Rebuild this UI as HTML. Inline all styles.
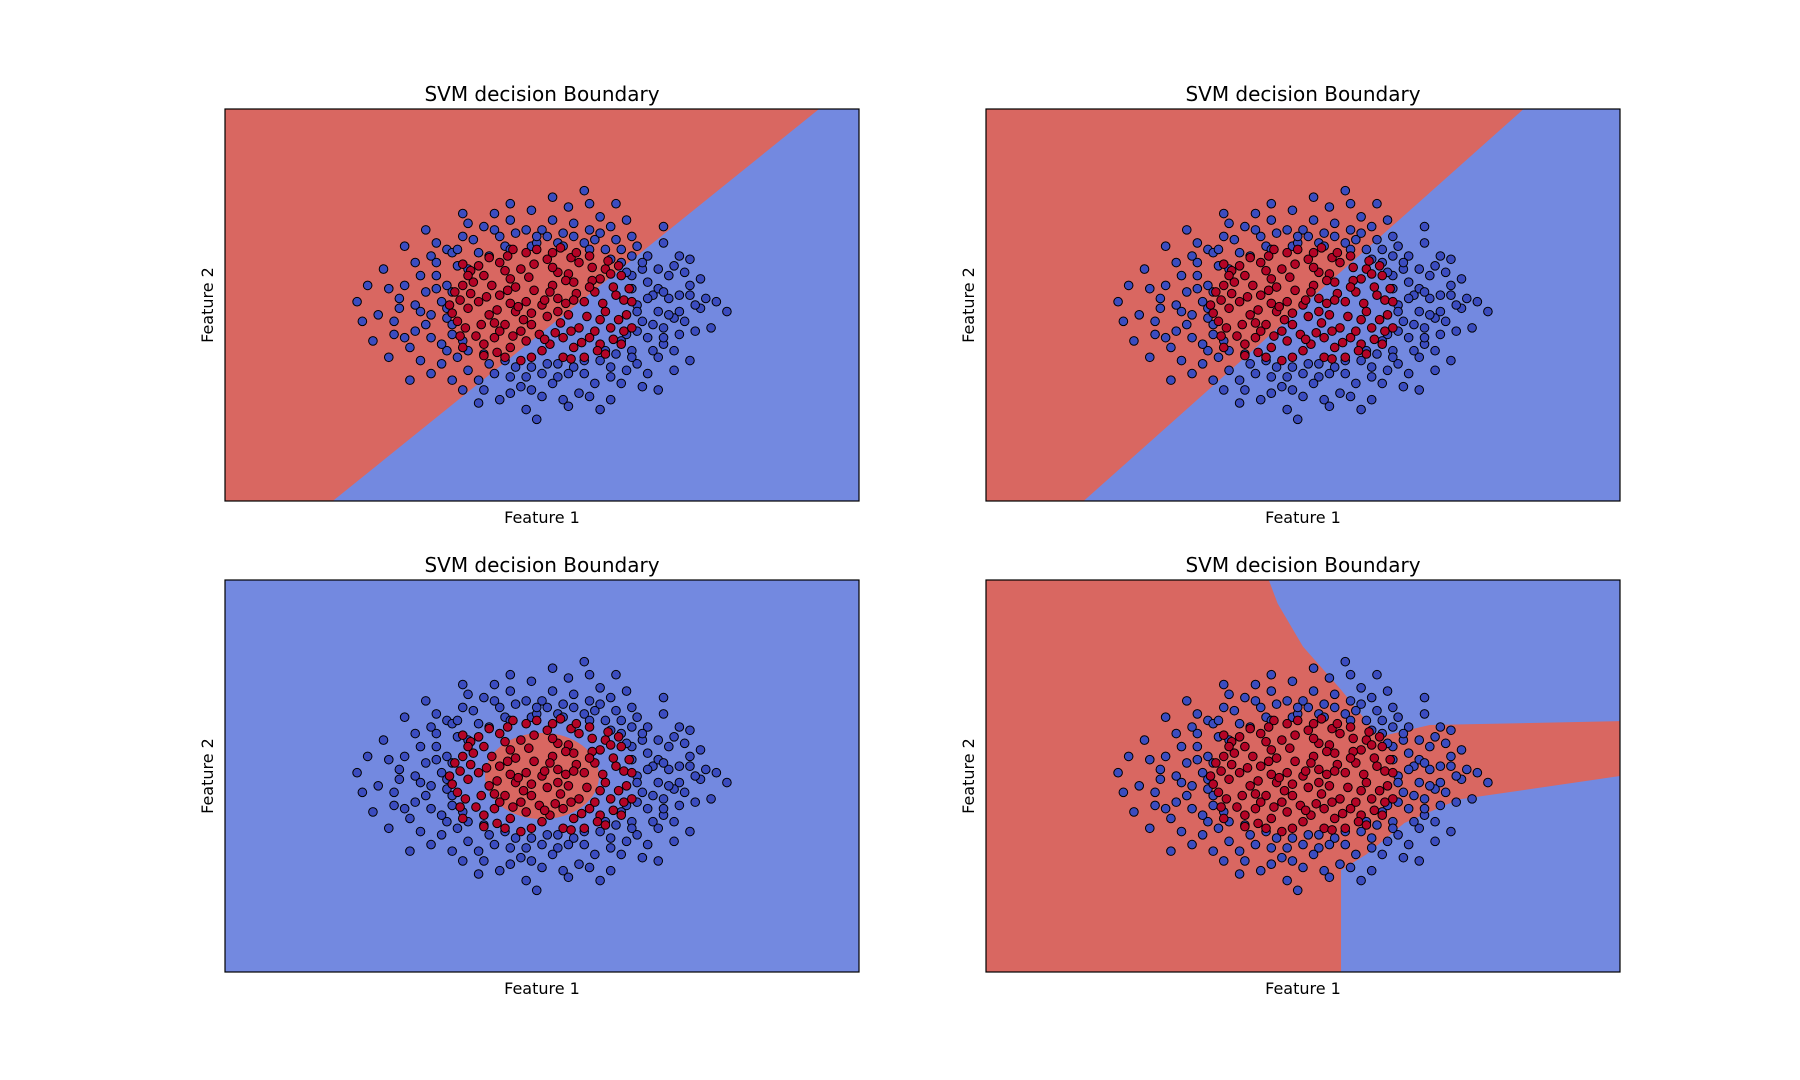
<!DOCTYPE html>
<html><head><meta charset="utf-8"><style>
html,body{margin:0;padding:0;background:#fff;width:1800px;height:1080px;overflow:hidden}
text{font-family:"DejaVu Sans","Liberation Sans",sans-serif;fill:#000}
</style></head><body>
<svg id="fig" width="1800" height="1080" xmlns="http://www.w3.org/2000/svg"></svg>
<script>
// Shared dataset (data units, domain x[-6,6], y[-6,6])
const bluePts=[[2.1,0.3],[2.5,-0.4],[1.9,1.1],[2.8,0.6],[3.0,-0.1],[2.3,-1.2],[1.7,-1.4],[2.6,1.5],[1.4,2.0],[0.9,2.3],[0.2,2.6],[-0.5,2.2],[-1.1,2.4],[-1.8,1.7],[-2.3,0.9],[-2.7,0.2],[-2.2,-0.6],[-2.5,-1.3],[-1.9,-1.8],[-1.2,-2.3],[-0.4,-2.5],[0.3,-2.2],[1.0,-2.4],[1.6,-2.0],[2.2,-1.6],[2.9,-0.8],[3.1,0.2],[2.4,0.9],[1.8,1.8],[1.1,2.7],[0.5,3.0],[-0.2,2.9],[-0.9,2.8],[-1.5,2.1],[-2.0,1.3],[-2.9,0.5],[-3.1,-0.3],[-2.8,-0.9],[-2.1,-2.1],[-1.5,-2.6],[-0.8,-2.9],[0.0,-2.8],[0.7,-2.7],[1.3,-2.9],[1.9,-2.5],[2.5,-2.0],
[1.8,0.0],[1.9,-0.5],[2.0,0.7],[1.7,0.9],[1.6,-0.9],[2.2,-0.2],[2.4,0.2],[2.6,-0.9],[2.0,-1.0],[1.5,1.3],[1.2,1.7],[0.8,1.9],[0.3,1.9],[-0.2,1.8],[-0.7,1.8],[-1.2,1.6],[-1.6,1.2],[-1.8,0.6],[-1.9,0.1],[-1.8,-0.4],[-1.7,-0.9],[-1.4,-1.4],[-1.0,-1.8],[-0.5,-1.9],[0.1,-1.8],[0.6,-1.9],[1.1,-1.7],[1.4,-1.5],[2.0,1.5],[2.2,0.5],[2.3,-0.7],[2.1,-1.4],[1.8,-1.8],[1.3,-2.2],[0.8,-2.1],[0.2,-2.4],[-0.3,-2.2],[-0.9,-2.1],[-1.4,-2.0],[-1.8,-1.4],[-2.1,-1.0],[-2.3,-0.2],[-2.2,0.4],[-2.0,0.9],[-1.7,1.6],[-1.3,2.0],[-0.8,2.1],[-0.3,2.3],[0.4,2.2],[1.0,2.0],[1.5,1.7],[1.9,1.3],
[2.7,1.0],[2.9,0.0],[2.7,-0.5],[2.5,-1.4],[2.0,-2.1],[1.5,-2.4],[0.9,-2.8],[0.4,-2.9],[-0.2,-2.6],[-0.6,-2.7],[-1.1,-2.6],[-1.7,-2.3],[-2.3,-1.7],[-2.6,-1.0],[-2.8,-0.5],[-2.6,0.6],[-2.4,1.3],[-2.0,1.9],[-1.4,2.5],[-0.6,2.6],[0.0,2.3],[0.6,2.5],[1.3,2.4],[1.7,2.1],[2.3,1.9],[2.6,0.3],[3.3,0.1],[3.5,-0.2],[3.2,-0.7],[3.0,0.8],[-3.3,0.6],[-3.5,0.1],[-3.4,-0.5],[-3.0,1.1],[-3.2,-1.1],[0.2,3.3],[-0.6,3.1],[0.9,3.1],[-0.3,-3.2],[0.5,-3.1],[-1.2,-3.0],[2.3,2.4],[-2.6,1.8],[-2.5,-2.3],[2.2,-2.6],[1.4,3.1],[-1.5,2.8],[2.8,-1.7],[-2.9,-1.6],[1.6,2.6],[-2.2,2.3],[2.5,1.2],[2.8,1.4],[-0.1,-3.5],[0.8,3.5],[1.1,-3.2],
[2.0,0.2],[1.8,-0.2],[1.7,0.5],[2.1,-0.6],[1.6,1.0],[1.3,1.4],[0.9,1.7],[0.4,1.8],[-0.1,1.9],[-0.6,1.7],[-1.0,1.5],[-1.4,1.1],[-1.7,0.4],[-1.8,-0.1],[-1.7,-0.6],[-1.5,-1.1],[-1.1,-1.5],[-0.7,-1.7],[-0.2,-1.9],[0.3,-1.8],[0.8,-1.7],[1.2,-1.4],[1.5,-1.1],[1.8,-0.8],[2.4,-0.3],[2.3,0.4],[2.2,1.1],[1.7,1.5],[1.1,2.2],[0.6,2.1],[-0.1,2.1],[-0.9,2.3],[-1.6,1.7],[-2.0,0.5],[-2.1,-0.3],[-1.9,-1.2],[-1.6,-1.6],[-0.6,-2.2],[0.5,-2.1],[1.3,-1.9],[1.7,-1.6],[2.3,-1.0],[-2.4,0.0],[-2.4,-0.8],[-2.1,1.5],[2.6,-0.2],[2.8,0.3],[-2.7,-0.1],[0.0,-2.1],[0.1,2.1]];
const redPts=[[0.0,0.0],[0.3,0.2],[-0.3,0.1],[0.5,-0.3],[-0.5,-0.2],[0.2,0.6],[-0.2,-0.6],[0.8,0.1],[-0.8,0.3],[0.6,0.7],[-0.6,0.8],[0.7,-0.7],[-0.7,-0.6],[1.0,0.4],[-1.0,-0.3],[0.3,1.0],[-0.4,1.1],[0.4,-1.0],[-0.3,-1.1],[1.2,-0.2],[-1.2,0.1],[1.1,0.8],[-1.1,0.9],[0.9,-1.0],[-0.9,-1.0],[1.4,0.3],[-1.4,-0.1],[0.1,1.4],[0.0,-1.4],[1.3,-0.7],[-1.3,0.7],[0.7,1.3],[-0.8,1.3],[0.6,-1.3],[-0.6,-1.3],[1.5,0.9],[-1.5,0.6],[1.6,-0.3],[-1.6,-0.5],[0.2,1.6],[-0.3,1.6],[0.4,-1.6],[-0.2,-1.6],[1.2,1.1],[-1.2,1.2],[1.1,-1.2],[-1.1,-1.2],
[0.15,0.4],[-0.15,0.45],[0.45,0.05],[-0.45,-0.05],[0.1,-0.35],[0.35,-0.55],[-0.35,-0.45],[0.65,0.35],[-0.65,0.45],[0.85,-0.35],[-0.85,-0.15],[0.5,0.95],[-0.5,0.55],[0.25,-0.85],[-0.05,-0.9],[0.95,0.75],[-0.95,0.6],[1.15,0.05],[-1.15,-0.6],[0.75,-1.15],[-0.55,-0.95],[1.35,0.55],[-1.35,0.35],[1.45,-0.45],[-1.45,-0.7],[0.95,1.15],[-0.15,1.25],[0.55,1.45],[-0.65,1.5],[0.15,-1.2],[-0.85,-1.45],[1.05,-1.4],[1.55,0.15],[-1.55,0.15],[1.25,1.35],[-1.35,1.05],[1.35,-1.05],[-1.25,-0.95],[0.9,1.5],[-1.0,1.45],[1.2,-1.5],[-1.1,-1.55],[1.65,0.5],[-1.65,0.4],[1.7,-0.7],[-1.7,-0.25],[0.8,-1.6],[-0.4,-1.7],[0.35,1.75],[-0.1,1.7],
[0.05,0.15],[-0.2,-0.25],[0.6,0.15],[-0.6,0.05],[0.3,-0.2],[0.9,0.55],[-0.9,-0.55],[0.45,0.75],[-0.25,0.85],[0.55,-0.8],[-0.4,-0.8],[1.1,-0.45],[-1.05,0.25],[1.3,0.95],[-1.4,0.9],[1.55,-0.8],[-1.55,-0.95],[0.2,1.15],[-0.7,1.05],[0.05,-1.05],[1.0,-0.8],[-0.8,-0.8],[1.7,0.1],[-1.75,0.0],[0.65,1.6],[-0.55,1.7],[0.55,-1.65],[-0.7,-1.6],[1.45,1.2],[-1.5,1.25],[1.5,-1.2],[-1.5,-1.3]];
const panels=[
 {x:225,y:109,name:'linear',poly:[[[0,0],[0.937,0],[0.17,1],[0,1]]],core:null},
 {x:986,y:109,name:'poly',poly:[[[0,0],[0.848,0],[0.154,1],[0,1]]],core:null},
 {x:225,y:580,name:'rbf',poly:[],core:[0.5,0.5,0.09,0.11]},
 {x:986,y:580,name:'sigmoid',poly:[[[0,0],[0.446,0],[0.46,0.06],[0.50,0.17],[0.56,0.28],[0.62,0.40],[0.70,0.37],[1,0.36],[1,0.50],[0.745,0.56],[0.66,0.62],[0.60,0.70],[0.56,0.74],[0.56,1],[0,1]]],core:null}];
const PW=634,PH=392,RED='#d96761',BLUE='#7389e0',DOM=6;
const svg=document.getElementById('fig');const NS='http://www.w3.org/2000/svg';
function mk(t,a,p){const e=document.createElementNS(NS,t);for(const k in a)e.setAttribute(k,a[k]);(p||svg).appendChild(e);return e;}
function sx(p,v){return p.x+(v+DOM)/(2*DOM)*PW;}
function sy(p,v){return p.y+(DOM-v)/(2*DOM)*PH;}
panels.forEach((p,i)=>{
 const g=mk('g',{});
 
 
 const bg=mk('rect',{x:p.x,y:p.y,width:PW,height:PH,fill:BLUE},g);
 
 
 p.poly.forEach(pl=>{
  const e=mk('polygon',{points:pl.map(q=>(p.x+q[0]*PW)+','+(p.y+q[1]*PH)).join(' '),fill:RED},g);
  
  
 });
 if(p.core){const e=mk('ellipse',{cx:p.x+p.core[0]*PW,cy:p.y+p.core[1]*PH,rx:p.core[2]*PW,ry:p.core[3]*PH,fill:RED},g);
  
  }
 bluePts.forEach(d=>{const c=mk('circle',{cx:sx(p,d[0]),cy:sy(p,d[1]),r:4.3,fill:'#3b4cc0',stroke:'#000','stroke-width':1},g);
  
  });
 redPts.forEach(d=>{const c=mk('circle',{cx:sx(p,d[0]),cy:sy(p,d[1]),r:4.3,fill:'#b40426',stroke:'#000','stroke-width':1},g);
  
  });
 const fr=mk('rect',{x:p.x,y:p.y,width:PW,height:PH,fill:'none',stroke:'#000','stroke-width':1.2},g);
 
 
 const t=mk('text',{x:p.x+PW/2,y:p.y-8,'text-anchor':'middle','font-size':20},g);t.textContent='SVM decision Boundary';
 
 
 const xl=mk('text',{x:p.x+PW/2,y:p.y+PH+22,'text-anchor':'middle','font-size':16},g);xl.textContent='Feature 1';
 
 
 const yx=p.x-12,yy=p.y+PH/2;
 const yl=mk('text',{x:yx,y:yy,'text-anchor':'middle','font-size':16,transform:'rotate(-90 '+yx+' '+yy+')'},g);yl.textContent='Feature 2';
 
 
});
</script>
</body></html>
